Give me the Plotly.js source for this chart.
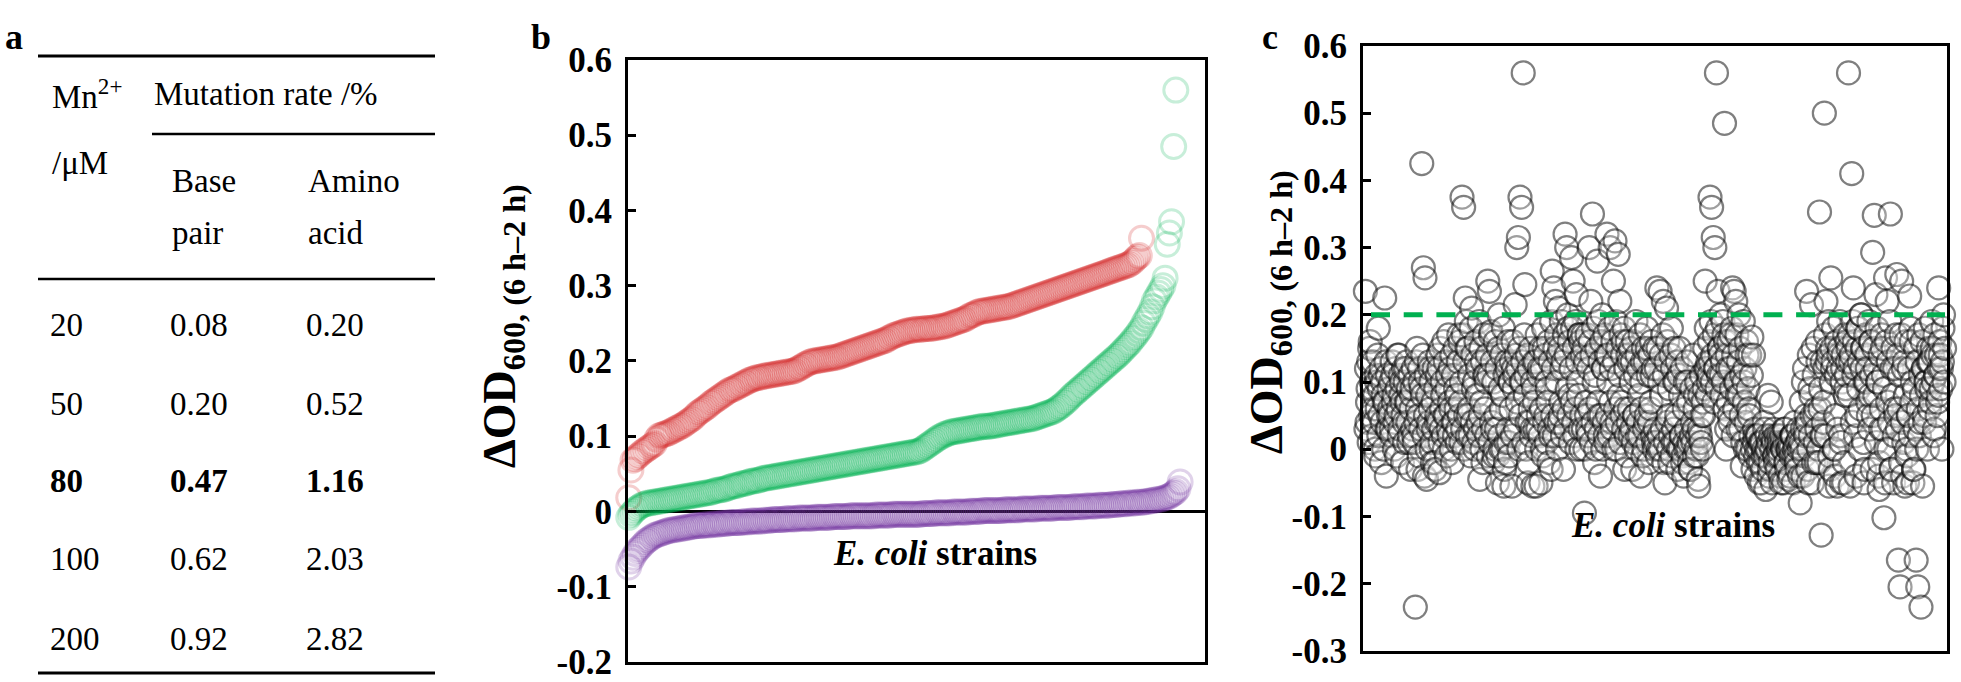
<!DOCTYPE html>
<html><head><meta charset="utf-8">
<script src="https://cdn.plot.ly/plotly-3.0.1.min.js"></script>
<style>html,body{margin:0;padding:0;background:#fff;}#chart{width:1961px;height:682px;}</style>
</head><body><div id="chart"></div>
<script>
// ---------- Panel a: table ----------
const tableMn    = ['20', '50', '80', '100', '200'];
const tableBase  = ['0.08', '0.20', '0.47', '0.62', '0.92'];
const tableAmino = ['0.20', '0.52', '1.16', '2.03', '2.82'];
const boldRow = 2;

// ---------- Panel b: sorted ΔOD600 of E. coli strains (three series) ----------
const redB = [0.005,0.018,0.055,
0.068,0.07,0.073,0.075,0.078,0.08,0.082,0.084,0.086,0.088,0.09,0.096,0.1,0.101,0.102,0.103,
0.104,0.105,0.107,0.108,0.11,0.111,0.113,0.114,0.116,0.118,0.12,0.122,0.124,0.127,0.13,0.132,
0.134,0.136,0.138,0.14,0.143,0.145,0.147,0.149,0.151,0.153,0.155,0.157,0.159,0.161,0.162,0.163,
0.165,0.166,0.168,0.169,0.171,0.172,0.174,0.175,0.176,0.177,0.178,0.178,0.179,0.18,0.18,0.181,
0.181,0.182,0.182,0.183,0.183,0.184,0.184,0.185,0.185,0.186,0.186,0.187,0.188,0.19,0.191,0.193,
0.195,0.196,0.198,0.199,0.2,0.2,0.201,0.201,0.202,0.202,0.203,0.203,0.204,0.204,0.205,0.205,
0.206,0.207,0.208,0.209,0.21,0.211,0.212,0.213,0.214,0.215,0.216,0.217,0.218,0.219,0.22,0.221,
0.222,0.223,0.224,0.225,0.226,0.227,0.228,0.23,0.231,0.233,0.234,0.235,0.236,0.237,0.238,0.239,
0.24,0.24,0.241,0.241,0.242,0.242,0.242,0.242,0.243,0.243,0.243,0.243,0.244,0.244,0.245,0.245,
0.246,0.246,0.247,0.248,0.249,0.25,0.251,0.252,0.253,0.254,0.255,0.256,0.258,0.26,0.261,0.262,
0.264,0.265,0.266,0.266,0.267,0.267,0.268,0.268,0.269,0.269,0.27,0.27,0.271,0.271,0.272,0.272,
0.273,0.274,0.275,0.276,0.277,0.278,0.279,0.28,0.281,0.282,0.283,0.284,0.285,0.286,0.287,0.288,
0.289,0.29,0.291,0.292,0.293,0.294,0.295,0.296,0.297,0.298,0.299,0.3,0.301,0.302,0.303,0.304,
0.305,0.306,0.307,0.308,0.309,0.31,0.311,0.312,0.313,0.314,0.315,0.316,0.317,0.318,0.319,0.32,
0.321,0.322,0.323,0.324,0.325,0.326,0.327,0.328,0.33,0.332,0.335,0.338,0.34,0.363];
const greenB = [-0.012,-0.008,-0.004,-0.001,0.002,0.004,0.006,0.008,0.009,0.01,0.011,0.011,0.012,0.012,
0.013,0.013,0.014,0.014,0.015,0.015,0.016,0.016,0.017,0.017,0.018,0.018,0.019,0.019,0.02,0.02,
0.021,0.021,0.022,0.022,0.023,0.023,0.024,0.024,0.025,0.025,0.026,0.027,0.028,0.028,0.029,0.029,
0.03,0.031,0.032,0.033,0.034,0.034,0.035,0.036,0.037,0.037,0.038,0.039,0.04,0.04,0.041,0.041,
0.042,0.043,0.044,0.044,0.045,0.045,0.046,0.046,0.047,0.047,0.048,0.048,0.049,0.049,0.05,0.05,
0.051,0.051,0.052,0.052,0.053,0.053,0.054,0.054,0.055,0.055,0.056,0.056,0.057,0.057,0.058,0.058,
0.059,0.059,0.06,0.06,0.061,0.061,0.062,0.062,0.063,0.063,0.064,0.064,0.065,0.065,0.066,0.066,
0.067,0.067,0.068,0.068,0.069,0.069,0.07,0.07,0.071,0.071,0.072,0.072,0.073,0.073,0.074,0.074,
0.075,0.075,0.076,0.076,0.077,0.077,0.078,0.078,0.079,0.079,0.08,0.081,0.083,0.085,0.087,0.089,
0.091,0.093,0.095,0.097,0.099,0.1,0.102,0.103,0.104,0.105,0.106,0.106,0.107,0.107,0.108,0.108,
0.109,0.109,0.11,0.11,0.111,0.111,0.112,0.112,0.113,0.113,0.113,0.113,0.114,0.114,0.115,0.115,
0.116,0.116,0.117,0.117,0.118,0.118,0.119,0.119,0.12,0.12,0.121,0.121,0.122,0.122,0.123,0.123,
0.124,0.125,0.126,0.127,0.128,0.129,0.13,0.131,0.132,0.133,0.135,0.137,0.139,0.141,0.144,0.146,
0.149,0.152,0.155,0.157,0.16,0.162,0.165,0.167,0.17,0.172,0.175,0.177,0.18,0.182,0.185,0.187,
0.19,0.192,0.195,0.197,0.2,0.202,0.205,0.207,0.21,0.213,0.216,0.219,0.222,0.225,0.229,0.232,
0.236,0.24,0.244,0.25,0.255,0.26,0.265,0.272,0.28,0.285,0.29,0.295,0.3,0.31,0.355,0.37,
0.385,0.485,0.56];
const purpleB = [-0.082,-0.074,-0.066,-0.061,-0.056,-0.052,-0.049,-0.046,-0.043,-0.04,-0.038,-0.036,
-0.034,-0.032,-0.031,-0.03,-0.029,-0.028,-0.027,-0.026,-0.025,-0.025,-0.024,-0.024,-0.023,-0.023,
-0.022,-0.022,-0.021,-0.021,-0.02,-0.02,-0.019,-0.019,-0.019,-0.019,-0.018,-0.018,-0.018,-0.018,
-0.017,-0.017,-0.017,-0.017,-0.016,-0.016,-0.016,-0.016,-0.015,-0.015,-0.015,-0.015,-0.015,-0.015,
-0.014,-0.014,-0.014,-0.014,-0.013,-0.013,-0.013,-0.013,-0.013,-0.013,-0.012,-0.012,-0.012,-0.012,
-0.011,-0.011,-0.011,-0.011,-0.011,-0.011,-0.01,-0.01,-0.01,-0.01,-0.01,-0.01,-0.009,-0.009,
-0.009,-0.009,-0.009,-0.009,-0.009,-0.009,-0.008,-0.008,-0.008,-0.008,-0.008,-0.008,-0.008,-0.008,
-0.007,-0.007,-0.007,-0.007,-0.007,-0.007,-0.007,-0.007,-0.006,-0.006,-0.006,-0.006,-0.006,-0.006,
-0.006,-0.006,-0.006,-0.006,-0.006,-0.006,-0.005,-0.005,-0.005,-0.005,-0.005,-0.005,-0.005,-0.005,
-0.004,-0.004,-0.004,-0.004,-0.004,-0.004,-0.004,-0.004,-0.004,-0.004,-0.004,-0.004,-0.004,-0.004,
-0.003,-0.003,-0.003,-0.003,-0.003,-0.003,-0.002,-0.002,-0.002,-0.002,-0.002,-0.002,-0.002,-0.002,
-0.001,-0.001,-0.001,-0.001,-0.001,-0.001,-0.001,-0.001,0,0,0,0,0,0,
0.001,0.001,0.001,0.001,0.001,0.001,0.001,0.001,0.001,0.001,0.002,0.002,0.002,0.002,0.002,0.002,
0.002,0.002,0.003,0.003,0.003,0.003,0.003,0.003,0.003,0.003,0.004,0.004,0.004,0.004,0.004,0.004,
0.004,0.004,0.005,0.005,0.005,0.005,0.005,0.005,0.005,0.005,0.006,0.006,0.006,0.006,0.006,0.006,
0.007,0.007,0.007,0.007,0.007,0.007,0.008,0.008,0.008,0.008,0.008,0.008,0.009,0.009,0.009,0.009,
0.01,0.01,0.01,0.01,0.011,0.011,0.011,0.011,0.012,0.012,0.012,0.012,0.013,0.013,0.014,0.014,
0.015,0.015,0.016,0.016,0.017,0.018,0.019,0.02,0.022,0.024,0.026,0.03,0.039];

// ---------- Panel c: ΔOD600 of E. coli strains in library order ----------
// read segment by segment (24 segments x 15); the three lists alternate strain by strain
const strainsCSpread = [
0.235,0.04,0.13,0.16,0.02,0.06,0.0,0.1,0.18,0.05,-0.02,0.08,0.225,-0.04,0.03,
0.06,0.03,0.11,0.0,0.05,0.14,0.02,0.08,-0.02,0.04,0.12,0.07,0.01,-0.03,0.09,
0.02,-0.235,0.15,0.05,0.1,0.425,0.27,0.255,-0.045,0.03,0.12,0.0,0.07,-0.02,0.04,
0.14,-0.035,0.03,0.08,0.0,0.05,0.11,0.02,0.06,-0.02,0.04,0.09,0.01,0.17,0.07,
0.375,0.36,0.225,0.15,0.05,0.02,0.21,0.09,0.0,0.13,0.04,-0.045,0.07,-0.02,0.11,
0.1,0.25,0.235,0.175,0.03,-0.01,0.05,-0.05,0.2,0.0,0.08,-0.055,-0.02,0.12,0.01,
0.1,-0.055,0.12,0.215,0.3,0.315,0.375,0.36,0.56,0.245,0.0,-0.05,0.04,0.02,-0.055,
0.07,-0.055,0.03,0.12,-0.05,0.0,0.15,0.05,0.09,-0.02,0.02,0.265,0.24,0.22,0.1,
0.21,0.05,0.12,-0.03,0.32,0.3,0.18,0.08,0.285,0.25,0.02,0.23,0.1,0.17,0.0,
0.17,-0.095,0.07,0.03,0.3,0.22,0.35,0.1,0.0,0.28,0.05,-0.04,0.2,0.12,0.02,
0.32,0.1,0.3,0.04,0.25,0.31,0.0,0.29,0.22,0.07,0.16,-0.03,0.02,0.14,0.06,
0.1,-0.03,0.05,0.19,0.02,0.08,-0.04,0.13,0.0,0.04,0.15,-0.02,0.06,0.11,0.01,
0.03,0.24,0.0,0.235,0.08,0.22,-0.05,0.21,0.05,-0.02,0.18,0.01,0.1,0.04,-0.03,
0.15,0.02,-0.02,0.06,0.0,0.1,0.01,-0.03,0.04,0.03,0.08,-0.01,-0.055,0.02,0.05,
0.05,0.25,0.12,0.1,0.375,0.36,0.315,0.3,0.56,0.235,0.15,0.11,0.19,0.485,0.0,
0.12,0.05,0.17,0.24,0.235,0.22,0.08,0.2,0.03,-0.025,0.1,0.0,0.14,0.06,-0.01,
0.167,0.14,0.02,0.0,-0.02,0.01,-0.05,-0.01,0.03,0.0,0.08,-0.03,0.07,0.015,-0.01,
0.02,-0.01,0.01,-0.05,0.0,0.03,-0.02,0.01,-0.045,0.0,0.02,-0.01,0.005,-0.03,0.015,
-0.08,0.0,0.1,0.03,0.235,-0.05,0.09,0.215,0.15,0.05,-0.02,0.13,0.353,-0.128,0.02,
0.5,0.22,0.15,-0.055,0.255,0.12,0.0,0.05,-0.055,0.14,0.02,0.1,-0.05,0.08,0.16,
0.56,-0.055,0.41,0.24,0.12,0.05,0.18,0.0,0.2,0.15,-0.03,0.1,0.07,0.03,0.16,
0.293,0.348,0.23,0.1,-0.06,0.03,0.15,-0.102,0.255,0.22,0.0,0.35,0.12,-0.05,0.06,
0.26,-0.165,-0.205,0.25,0.12,-0.055,0.0,0.05,0.228,0.16,-0.05,0.09,-0.165,-0.205,0.02,
-0.235,-0.055,0.05,0.1,0.0,0.13,0.07,0.15,0.02,0.11,0.05,0.24,0.14,0.0,0.2];
const strainsCCore = [
0.03,0.07,0.01,0.05,0.09,0.04,-0.01,0.06,0.02,0.11,0.04,0.0,0.07,0.03,0.05,
0.05,0.02,0.07,0.04,-0.01,0.06,0.03,0.1,0.05,0.01,0.07,0.04,0.02,0.06,0.03,
0.01,0.04,0.06,-0.01,0.03,0.08,0.02,0.05,0.0,0.04,0.06,0.01,0.03,-0.03,0.05,
0.04,0.01,0.06,0.02,0.05,-0.01,0.03,0.07,0.0,0.04,0.02,0.06,0.03,0.05,0.01,
0.03,0.0,0.05,0.02,0.06,-0.01,0.04,0.01,0.03,0.08,0.02,0.05,0.0,0.03,0.06,
0.02,-0.01,0.01,0.04,-0.02,0.0,0.03,-0.01,0.02,0.06,0.0,-0.03,0.01,0.03,-0.01,
0.06,0.02,0.09,0.03,0.07,0.0,0.05,0.1,0.01,0.08,0.04,-0.02,0.06,0.03,0.09,
0.03,0.0,0.05,0.02,0.06,-0.01,0.04,0.01,0.07,0.03,-0.03,0.05,0.02,0.04,0.0,
0.04,0.07,0.02,0.06,0.03,0.09,0.05,0.01,0.07,0.04,0.06,0.0,0.08,0.03,0.05,
0.03,0.0,0.05,0.02,0.06,0.01,0.04,-0.02,0.03,0.07,0.02,0.05,0.0,0.04,0.01,
0.05,0.02,0.07,0.03,0.0,0.06,0.04,0.08,0.01,0.05,0.03,0.06,-0.01,0.04,0.02,
0.03,0.01,0.05,0.0,0.04,0.02,0.06,-0.01,0.03,0.05,0.01,0.04,0.07,0.02,0.0,
0.01,-0.01,0.02,0.0,0.03,-0.02,0.01,0.04,0.0,0.02,-0.01,0.03,0.01,0.05,0.0,
0.0,0.02,-0.01,0.01,0.03,0.0,-0.02,0.02,0.01,-0.01,0.0,0.02,0.03,0.01,0.0,
0.09,0.12,0.08,0.11,0.13,0.1,0.07,0.12,0.09,0.11,0.14,0.08,0.1,0.06,0.03,
0.07,0.04,0.09,0.02,0.06,0.1,0.03,0.08,0.05,0.01,0.07,0.04,0.0,0.05,0.02,
0.0,0.01,-0.01,0.02,0.0,-0.02,0.01,0.0,-0.01,0.02,0.01,-0.02,0.0,0.01,-0.01,
0.01,0.0,-0.01,0.02,0.0,0.01,-0.02,0.0,0.01,-0.01,0.02,0.0,-0.01,0.01,0.0,
0.01,0.03,-0.01,0.02,0.04,0.0,0.02,0.05,-0.02,0.01,0.03,0.0,0.06,0.02,0.04,
0.12,0.02,0.14,-0.01,0.1,0.13,0.0,0.11,0.03,0.15,0.01,0.12,-0.02,0.09,0.13,
0.08,0.13,0.04,0.11,0.02,0.15,0.09,0.06,0.12,0.01,0.1,0.14,0.05,0.08,0.11,
0.05,0.08,0.01,0.1,-0.02,0.06,0.03,0.09,0.0,0.07,0.04,-0.03,0.08,0.02,0.05,
0.03,0.06,-0.02,0.04,0.01,0.08,-0.01,0.05,0.02,0.07,-0.03,0.03,0.0,0.06,0.04,
0.08,0.12,0.04,0.1,0.13,0.06,0.09,0.14,0.03,0.11,0.07,0.12,0.09,0.13,0.1];
const strainsCUpper = [
0.12,0.09,0.15,0.1,0.13,0.08,0.11,0.14,0.09,0.12,0.1,0.07,0.13,0.11,0.09,
0.1,0.13,0.08,0.12,0.09,0.14,0.11,0.07,0.12,0.1,0.13,0.09,0.11,0.08,0.12,
0.1,0.13,-0.03,0.12,0.09,0.14,-0.04,0.11,0.08,0.13,0.1,-0.02,0.12,0.09,0.11,
0.12,0.15,0.1,0.16,0.13,0.09,0.17,0.12,0.14,0.11,0.15,0.08,0.13,0.16,0.1,
0.17,0.13,0.19,0.15,0.11,0.18,0.14,0.1,0.16,0.12,0.19,0.15,0.13,0.17,0.11,
0.14,0.11,0.17,0.13,0.1,0.16,0.12,0.15,0.09,0.14,0.18,0.11,0.13,0.16,0.1,
0.13,0.16,0.11,0.14,0.12,0.15,0.1,0.13,0.17,0.11,0.14,0.12,0.15,0.1,0.13,
0.13,0.17,0.11,0.15,0.12,0.18,0.14,0.1,0.16,0.13,0.19,0.12,0.15,0.17,0.14,
0.15,0.19,0.13,0.17,0.14,0.2,0.16,0.12,0.18,0.15,0.19,0.13,0.17,0.16,0.14,
0.15,0.13,0.17,0.12,0.16,0.14,0.18,0.11,0.15,0.19,0.13,0.16,0.12,0.17,0.14,
0.14,0.18,0.12,0.16,0.13,0.19,0.15,0.11,0.17,0.14,0.18,0.12,0.16,0.13,0.15,
0.13,0.16,0.11,0.14,0.12,0.17,0.1,0.15,0.13,0.18,0.11,0.14,0.16,0.12,0.15,
0.12,0.15,0.1,0.14,0.17,0.11,0.13,0.16,0.09,0.14,0.12,0.15,0.1,0.13,0.11,
0.08,0.12,-0.04,0.1,0.13,0.07,-0.03,0.09,0.14,0.06,0.1,-0.045,0.08,0.11,0.07,
0.15,0.18,0.13,0.16,0.19,0.14,0.17,0.12,0.18,0.15,0.2,0.13,0.17,0.16,0.14,
0.16,0.12,0.18,0.14,0.1,0.17,0.13,0.15,0.11,0.19,0.12,0.16,0.09,0.14,0.11,
-0.03,0.03,-0.04,0.02,-0.05,0.01,-0.03,0.04,-0.06,0.0,-0.04,0.02,-0.05,0.03,-0.02,
-0.03,0.02,-0.04,0.01,-0.05,0.03,-0.03,0.0,-0.04,0.02,-0.05,0.04,-0.02,0.03,-0.04,
0.07,-0.04,0.12,0.05,-0.03,0.14,0.08,-0.05,0.11,0.06,0.16,-0.02,0.09,0.13,0.07,
0.17,0.13,0.19,-0.03,0.15,0.18,-0.04,0.16,0.12,0.19,-0.05,0.14,0.17,0.11,0.15,
0.17,0.14,0.19,0.16,-0.04,0.18,0.13,0.2,0.15,-0.05,0.17,0.12,0.19,0.16,-0.03,
0.15,0.12,0.18,-0.04,0.14,0.17,0.11,-0.05,0.16,0.13,0.19,-0.03,0.15,0.12,0.17,
0.14,0.11,0.17,-0.04,0.13,0.16,-0.05,0.12,0.18,0.1,-0.03,0.15,0.13,0.17,0.11,
0.16,0.12,0.18,0.09,0.15,0.13,0.19,0.1,0.17,0.14,0.08,0.16,0.12,0.18,0.15];
const thresholdC = 0.2;

// ---------- tick labels ----------
const tickValsB = [-0.2,-0.1,0,0.1,0.2,0.3,0.4,0.5,0.6];
const tickTextB = ['-0.2','-0.1','0','0.1','0.2','0.3','0.4','0.5','0.6'];
const tickValsC = [-0.3,-0.2,-0.1,0,0.1,0.2,0.3,0.4,0.5,0.6];
const tickTextC = ['-0.3','-0.2','-0.1','0','0.1','0.2','0.3','0.4','0.5','0.6'];

// ---------- drawing ----------
const W = 1961, H = 682;
const FONT = 'Liberation Serif';
const idx1 = arr => arr.map((_, i) => i + 1);
const strainsC = strainsCSpread.flatMap((v, i) => [v, strainsCCore[i], strainsCUpper[i]]);
const xC = strainsC.map((_, i) => i);

function ring(line, size, lw, fill) {
  return {symbol: 'circle', size: size, color: fill, line: {color: line, width: lw}};
}
const traces = [
  {x: idx1(redB), y: redB, xaxis: 'x', yaxis: 'y', type: 'scatter', mode: 'markers', cliponaxis: false,
   marker: ring('rgba(214,48,48,0.24)', 24, 3, 'rgba(255,255,255,0)')},
  {x: idx1(greenB), y: greenB, xaxis: 'x', yaxis: 'y', type: 'scatter', mode: 'markers', cliponaxis: false,
   marker: ring('rgba(0,176,80,0.22)', 24, 3, 'rgba(255,255,255,0)')},
  {x: idx1(purpleB), y: purpleB, xaxis: 'x', yaxis: 'y', type: 'scatter', mode: 'markers', cliponaxis: false,
   marker: ring('rgba(112,48,160,0.22)', 24, 3, 'rgba(255,255,255,0)')},
  {x: xC, y: strainsC, xaxis: 'x2', yaxis: 'y2', type: 'scatter', mode: 'markers', cliponaxis: false,
   marker: ring('rgba(0,0,0,0.5)', 23, 2.2, 'rgba(255,255,255,0.25)')}
];

// table cells as text traces on a hidden pixel-scaled axis
const rowY = [328, 407, 484, 562, 642];
const colX = [50, 170, 306];
const cellFont = {family: FONT, size: 33, color: '#000'};
[tableMn, tableBase, tableAmino].forEach((col, c) => {
  traces.push({
    x: col.map(() => colX[c]), y: rowY, xaxis: 'x3', yaxis: 'y3', type: 'scatter', mode: 'text',
    text: col.map((v, i) => i === boldRow ? '<b>' + v + '</b>' : v),
    textposition: 'middle right', textfont: cellFont, cliponaxis: false, hoverinfo: 'skip'
  });
});

const tickFont = {family: FONT, size: 35, color: '#000', weight: 'bold'};
const yCommon = {ticks: 'inside', ticklen: 8, tickwidth: 3, tickcolor: '#000', showline: true, mirror: true,
  linecolor: '#000', linewidth: 3, showgrid: false, tickfont: tickFont, ticklabelstandoff: 6,
  ticklabeloverflow: 'allow', fixedrange: true};
const xCommon = {showline: true, mirror: true, linecolor: '#000', linewidth: 3, showticklabels: false,
  ticks: '', showgrid: false, zeroline: false, fixedrange: true};
const bold = arr => arr.map(t => '<b>' + t + '</b>');

const hline = (x0, x1, y, w) => ({type: 'line', xref: 'x3', yref: 'y3', x0: x0, x1: x1, y0: y, y1: y,
  line: {color: '#000', width: w}});

const ann = (x, y, text, size, extra) => Object.assign({xref: 'paper', yref: 'paper', x: x / W, y: 1 - y / H,
  xanchor: 'center', yanchor: 'middle', text: text, showarrow: false,
  font: {family: FONT, size: size, color: '#000'}}, extra || {});
const tAnn = (x, y, text) => ({xref: 'x3', yref: 'y3', x: x, y: y, text: text, showarrow: false,
  xanchor: 'left', yanchor: 'middle', font: {family: FONT, size: 33, color: '#000'}});

const layout = {
  width: W, height: H, margin: {l: 0, r: 0, t: 0, b: 0}, showlegend: false,
  paper_bgcolor: '#fff', plot_bgcolor: 'rgba(0,0,0,0)', hovermode: false,
  xaxis: Object.assign({}, xCommon, {anchor: 'y', domain: [628 / W, 1205 / W], range: [1.65, 270.6]}),
  yaxis: Object.assign({}, yCommon, {anchor: 'x', domain: [1 - 662 / H, 1 - 60 / H], range: [-0.2003, 0.6],
    tickvals: tickValsB, ticktext: bold(tickTextB), zeroline: true, zerolinecolor: '#000', zerolinewidth: 3}),
  xaxis2: Object.assign({}, xCommon, {anchor: 'y2', domain: [1363 / W, 1947 / W], range: [-4.47, 1083.5]}),
  yaxis2: Object.assign({}, yCommon, {anchor: 'x2', domain: [1 - 651 / H, 1 - 46 / H], range: [-0.3003, 0.6],
    tickvals: tickValsC, ticktext: bold(tickTextC), zeroline: false}),
  xaxis3: {anchor: 'y3', domain: [0, 450 / W], range: [0, 450], visible: false, fixedrange: true},
  yaxis3: {anchor: 'x3', domain: [0, 1], range: [H, 0], visible: false, fixedrange: true},
  shapes: [
    hline(38, 435, 56, 3), hline(152, 435, 134, 2.5), hline(38, 435, 279, 2.5), hline(38, 435, 673, 3),
    {type: 'line', xref: 'paper', yref: 'y2', x0: 1371 / W, x1: 1945 / W, y0: thresholdC, y1: thresholdC,
     layer: 'above', line: {color: '#00B050', width: 5, dash: '19px,13.7px'}}
  ],
  annotations: [
    ann(14, 37, '<b>a</b>', 36), ann(541, 37, '<b>b</b>', 36), ann(1270, 37, '<b>c</b>', 36),
    tAnn(50, 94, 'Mn<sup>2+</sup>'), tAnn(152, 94, 'Mutation rate /%'), tAnn(50, 163, '/μM'),
    tAnn(170, 181, 'Base'), tAnn(306, 181, 'Amino'), tAnn(170, 233, 'pair'), tAnn(306, 233, 'acid'),
    ann(503, 326, '<b>ΔOD<sub>600, (6 h–2 h)</sub></b>', 46, {textangle: -90}),
    ann(1270, 312, '<b>ΔOD<sub>600, (6 h–2 h)</sub></b>', 46, {textangle: -90}),
    ann(935, 553, '<b><i>E. coli</i> strains</b>', 35),
    ann(1673, 525, '<b><i>E. coli</i> strains</b>', 35)
  ]
};

Plotly.newPlot('chart', traces, layout, {staticPlot: true, displayModeBar: false});
</script>
</body></html>
